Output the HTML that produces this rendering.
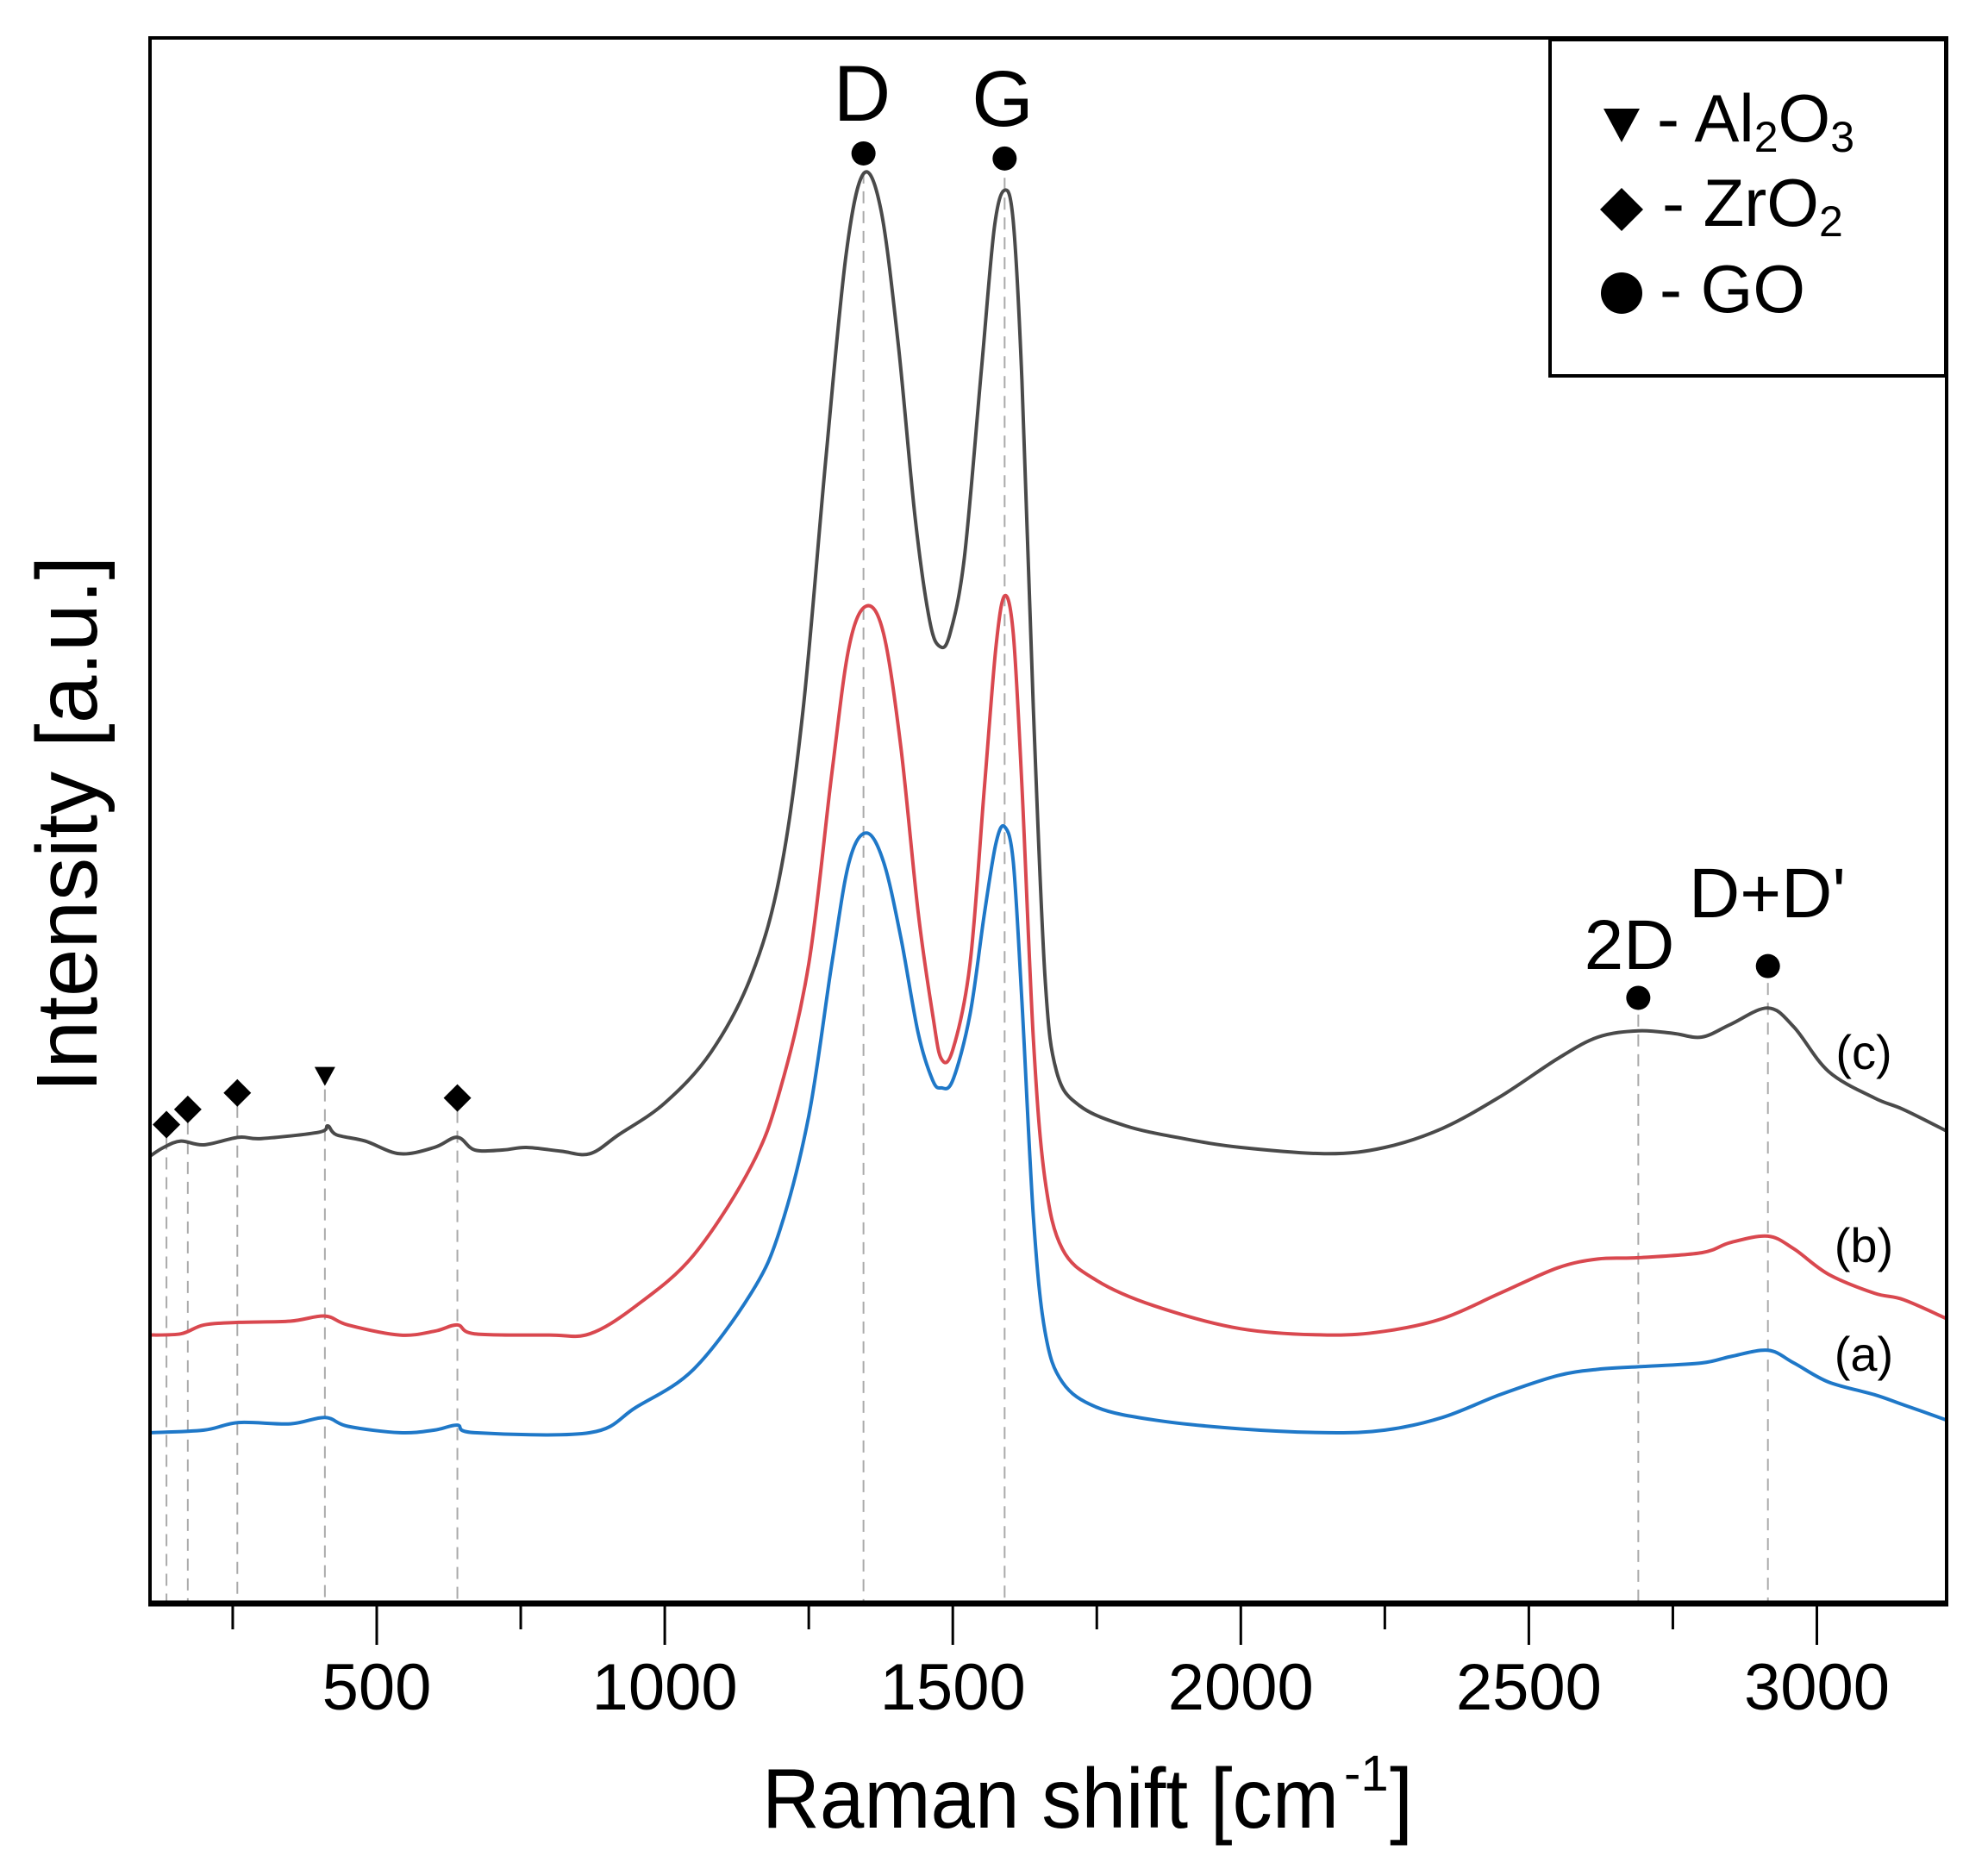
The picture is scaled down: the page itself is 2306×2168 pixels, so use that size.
<!DOCTYPE html>
<html><head><meta charset="utf-8"><style>
html,body{margin:0;padding:0;background:#fff}
svg{display:block}
text{font-family:"Liberation Sans",Arial,sans-serif;fill:#000}
</style></head><body>
<svg id="s" width="2306" height="2168" viewBox="0 0 2306 2168" xmlns="http://www.w3.org/2000/svg">
<rect x="0" y="0" width="2306" height="2168" fill="#fff"/>
<g id="dash" stroke="#aaa" stroke-width="2" stroke-dasharray="14,9" fill="none"></g>
<g id="curves" fill="none" stroke-width="4" stroke-linejoin="round"></g>
<rect x="174" y="44" width="2084" height="1816" fill="none" stroke="#000" stroke-width="4"/>
<line x1="172" y1="1860" x2="2260" y2="1860" stroke="#000" stroke-width="7"/>
<g id="ticks" stroke="#000" stroke-width="3"></g>
<g id="marks" fill="#000"></g>
<g font-size="76" text-anchor="middle" id="tl"></g>
<text x="884" y="2120" font-size="98" textLength="669" lengthAdjust="spacingAndGlyphs">Raman shift [cm</text>
<text x="1559" y="2077" font-size="58">-1</text>
<text x="1612" y="2120" font-size="98">]</text>
<text transform="translate(112,956) rotate(-90)" font-size="100" text-anchor="middle">Intensity [a.u.]</text>
<text x="1000" y="140" font-size="92" text-anchor="middle">D</text>
<text x="1163" y="146" font-size="92" text-anchor="middle">G</text>
<text x="1890" y="1124" font-size="82" text-anchor="middle">2D</text>
<text x="2050" y="1064" font-size="82" text-anchor="middle">D+D'</text>
<text x="2162" y="1240" font-size="56" text-anchor="middle">(c)</text>
<text x="2162" y="1464" font-size="56" text-anchor="middle">(b)</text>
<text x="2162" y="1590" font-size="56" text-anchor="middle">(a)</text>
<rect x="1798" y="46" width="459" height="390" fill="#fff" stroke="#000" stroke-width="4"/>
<path d="M1860,126 L1902,126 L1881,165 Z"/>
<path d="M1881,218 L1906,243 L1881,268 L1856,243 Z"/>
<circle cx="1881" cy="340" r="24"/>
<text x="1922" y="164" font-size="78">- Al<tspan font-size="50" dy="12">2</tspan><tspan dy="-12">O</tspan><tspan font-size="50" dy="12">3</tspan></text>
<text x="1928" y="262" font-size="78">- ZrO<tspan font-size="50" dy="12">2</tspan></text>
<text x="1925" y="362" font-size="78">- GO</text>
</svg>
<script>
const K=1.4707;
function X(v){return 437+(v-500)*0.6682;}
function Y(p){return p*K;}
const gray=[[106,912],[130,905],[160,900],[200,903],[260,897],[300,898],[400,893],[415,888],[430,895],[480,900],[540,910],[600,905],[640,897],[670,907],[720,907],[760,905],[820,908],[870,910],[920,895],[1000,870],[1080,830],[1150,770],[1200,690],[1240,560],[1280,360],[1315,200],[1345,137],[1375,165],[1405,270],[1435,410],[1460,490],[1478,510],[1495,500],[1520,440],[1550,290],[1572,180],[1590,150],[1605,175],[1620,300],[1640,560],[1660,770],[1680,845],[1720,872],[1800,888],[1900,898],[2000,905],[2150,910],[2250,905],[2350,890],[2450,865],[2550,835],[2620,818],[2690,813],[2750,815],[2800,818],[2850,808],[2915,795],[2960,810],[3020,845],[3100,866],[3150,875],[3225,892]];
const red=[[106,1053],[160,1052],[200,1045],[260,1043],[350,1042],[410,1038],[450,1045],[540,1053],[600,1050],[640,1045],[670,1052],[800,1053],[870,1052],[950,1030],[1050,990],[1150,920],[1200,860],[1250,760],[1290,610],[1320,510],[1350,478],[1380,500],[1410,590],[1440,720],[1465,800],[1480,835],[1500,828],[1530,760],[1555,620],[1575,510],[1590,470],[1605,500],[1620,620],[1640,820],[1660,930],[1690,985],[1750,1010],[1850,1030],[2000,1048],[2150,1053],[2250,1050],[2350,1040],[2450,1020],[2550,1000],[2620,993],[2690,992],[2800,988],[2850,980],[2915,975],[2960,985],[3020,1005],[3100,1020],[3150,1025],[3225,1040]];
const blue=[[106,1130],[200,1128],[260,1122],[350,1123],[410,1118],[450,1125],[540,1130],[600,1128],[640,1124],[670,1130],[870,1130],[950,1110],[1050,1080],[1150,1020],[1200,970],[1250,880],[1290,760],[1320,680],[1350,657],[1380,680],[1410,740],[1440,815],[1465,852],[1480,858],[1500,852],[1530,800],[1555,720],[1575,665],[1590,652],[1605,680],[1620,790],[1640,960],[1660,1050],[1690,1090],[1750,1110],[1850,1120],[2000,1127],[2150,1130],[2250,1128],[2350,1118],[2450,1100],[2550,1085],[2620,1080],[2690,1078],[2800,1075],[2850,1070],[2915,1065],[2960,1075],[3020,1090],[3100,1100],[3150,1108],[3225,1120]];
function path(pts){
  const P=pts.map(p=>[X(p[0]),Y(p[1])]);
  let d="M"+P[0][0].toFixed(1)+","+P[0][1].toFixed(1);
  for(let i=0;i<P.length-1;i++){
    const p0=P[Math.max(0,i-1)],p1=P[i],p2=P[i+1],p3=P[Math.min(P.length-1,i+2)];
    const c1=[p1[0]+(p2[0]-p0[0])/6,p1[1]+(p2[1]-p0[1])/6];
    const c2=[p2[0]-(p3[0]-p1[0])/6,p2[1]-(p3[1]-p1[1])/6];
    d+=" C"+c1.map(v=>v.toFixed(1))+" "+c2.map(v=>v.toFixed(1))+" "+p2[0].toFixed(1)+","+p2[1].toFixed(1);
  }
  return d;
}
const ns="http://www.w3.org/2000/svg";
function el(g,tag,attrs){const e=document.createElementNS(ns,tag);for(const k in attrs)e.setAttribute(k,attrs[k]);document.getElementById(g).appendChild(e);return e;}
[[gray,"#4a4a4a"],[red,"#d9484f"],[blue,"#1f78c8"]].forEach(([p,c])=>el("curves","path",{d:path(p),stroke:c}));
[[135,887],[172,875],[258,862],[410,849],[640,866],[1345,125],[1590,130],[2690,790],[2915,765]].forEach(([v,y])=>el("dash","line",{x1:X(v),x2:X(v),y1:Y(y)+15,y2:1858}));
[[135,887],[172,875],[258,862],[640,866]].forEach(([v,y])=>{const x=X(v),yy=Y(y);el("marks","path",{d:`M${x},${yy-16} L${x+16},${yy} L${x},${yy+16} L${x-16},${yy} Z`});});
{const x=X(410),y=Y(849);el("marks","path",{d:`M${x-12},${y-11} L${x+12},${y-11} L${x},${y+11} Z`});}
[[1345,121],[1590,125],[2690,787],[2915,762]].forEach(([v,y])=>el("marks","circle",{cx:X(v),cy:Y(y),r:14}));
for(let v=250;v<=3200;v+=250){const x=X(v);const maj=v%500==0;el("ticks","line",{x1:x,x2:x,y1:1860,y2:1860+(maj?48:30)});
 if(maj){const t=el("tl","text",{x:x,y:1983});t.textContent=String(v);}}
</script>
</body></html>
